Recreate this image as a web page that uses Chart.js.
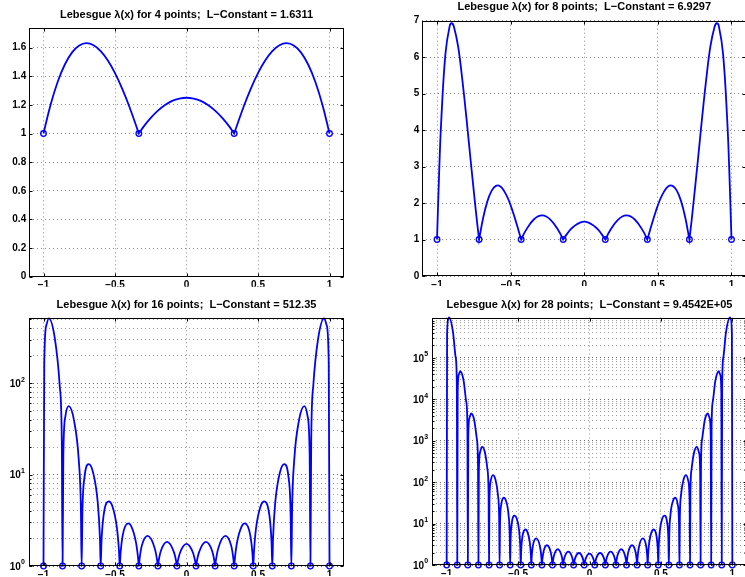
<!DOCTYPE html>
<html>
<head>
<meta charset="utf-8">
<script src="https://cdn.jsdelivr.net/npm/chart.js@4.4.1/dist/chart.umd.min.js"></script>
<style>
  html, body { margin: 0; padding: 0; background: #fff; overflow: hidden; width: 745px; height: 577px; }
  canvas { position: absolute; left: 0; top: 0; }
</style>
</head>
<body>
<canvas id="c4" width="760" height="600"></canvas>
<canvas id="c8" width="760" height="600"></canvas>
<canvas id="c16" width="760" height="600"></canvas>
<canvas id="c28" width="760" height="600"></canvas>
<script>
// interpolation nodes (equispaced) for each panel
const nodes4 = [-1, -0.3333, 0.3333, 1];
const nodes8 = [-1, -0.7143, -0.4286, -0.1429, 0.1429, 0.4286, 0.7143, 1];
const nodes16 = [-1, -0.8667, -0.7333, -0.6, -0.4667, -0.3333, -0.2, -0.0667,
  0.0667, 0.2, 0.3333, 0.4667, 0.6, 0.7333, 0.8667, 1];
const nodes28 = [-1, -0.9259, -0.8519, -0.7778, -0.7037, -0.6296, -0.5556, -0.4815, -0.4074, -0.3333,
  -0.2593, -0.1852, -0.1111, -0.037, 0.037, 0.1111, 0.1852, 0.2593, 0.3333, 0.4074,
  0.4815, 0.5556, 0.6296, 0.7037, 0.7778, 0.8519, 0.9259, 1];

// lambda(x)
const curve4X = [-1, -0.95, -0.9, -0.85, -0.8, -0.75, -0.7, -0.65, -0.6, -0.55, -0.5, -0.45, -0.4, -0.3333,
  -0.3, -0.25, -0.2, -0.15, -0.1, -0.05, 0, 0.05, 0.1, 0.15, 0.2, 0.25, 0.3, 0.3333,
  0.4, 0.45, 0.5, 0.55, 0.6, 0.65, 0.7, 0.75, 0.8, 0.85, 0.9, 0.95, 1];
const curve4Y = [1, 1.203, 1.363, 1.484, 1.567, 1.615, 1.631, 1.617, 1.576, 1.510, 1.422, 1.314, 1.189, 1,
  1.048, 1.109, 1.16, 1.199, 1.228, 1.244, 1.25, 1.244, 1.228, 1.199, 1.16, 1.109, 1.048, 1,
  1.189, 1.314, 1.422, 1.510, 1.576, 1.617, 1.631, 1.615, 1.567, 1.484, 1.363, 1.203, 1];

const curve8X = [-1, -0.9857, -0.9714, -0.9429, -0.9143, -0.9, -0.8857, -0.8571, -0.8286, -0.8, -0.7714, -0.7429, -0.7286, -0.7143,
  -0.6857, -0.6571, -0.6286, -0.6, -0.5714, -0.5429, -0.5143, -0.4857, -0.4571, -0.4286,
  -0.4, -0.3429, -0.2857, -0.2286, -0.1714, -0.1429,
  -0.1143, -0.0714, 0, 0.0714, 0.1143, 0.1429,
  0.1714, 0.2286, 0.2857, 0.3429, 0.4, 0.4286,
  0.4571, 0.4857, 0.5143, 0.5429, 0.5714, 0.6, 0.6286, 0.6571, 0.6857, 0.7143,
  0.7286, 0.7429, 0.7714, 0.8, 0.8286, 0.8571, 0.8857, 0.9, 0.9143, 0.9429, 0.9714, 0.9857, 1];
const curve8Y = [1, 2.82, 4.25, 6.09, 6.85, 6.93, 6.84, 6.30, 5.40, 4.32, 3.16, 2.04, 1.50, 1,
  1.61, 2.06, 2.34, 2.47, 2.46, 2.32, 2.09, 1.77, 1.40, 1,
  1.23, 1.55, 1.66, 1.54, 1.22, 1,
  1.17, 1.36, 1.49, 1.36, 1.17, 1,
  1.22, 1.54, 1.66, 1.55, 1.23, 1,
  1.40, 1.77, 2.09, 2.32, 2.46, 2.47, 2.34, 2.06, 1.61, 1,
  1.50, 2.04, 3.16, 4.32, 5.40, 6.30, 6.84, 6.93, 6.85, 6.09, 4.25, 2.82, 1];

const curve16X = [-1, -0.99467, -0.98, -0.96267, -0.92, -0.88667, -0.872,
  -0.86667, -0.86133, -0.84667, -0.824, -0.78667, -0.75333, -0.73867,
  -0.73333, -0.728, -0.71333, -0.684, -0.65333, -0.62, -0.60533,
  -0.6, -0.59467, -0.58, -0.544, -0.52, -0.48667, -0.472,
  -0.46667, -0.46133, -0.44667, -0.408, -0.38667, -0.35333, -0.33867,
  -0.33333, -0.328, -0.31333, -0.272, -0.22, -0.20533,
  -0.2, -0.19467, -0.18, -0.136, -0.08667, -0.072,
  -0.06667, -0.06133, -0.04667, 0, 0.04667, 0.06133,
  0.06667,
  0.072, 0.08667, 0.136, 0.18, 0.19467, 0.2,
  0.20533, 0.22, 0.272, 0.31333, 0.328, 0.33333,
  0.33867, 0.35333, 0.38667, 0.408, 0.44667, 0.46133, 0.46667,
  0.472, 0.48667, 0.52, 0.544, 0.58, 0.59467, 0.6,
  0.60533, 0.62, 0.65333, 0.684, 0.71333, 0.728, 0.73333,
  0.73867, 0.75333, 0.78667, 0.824, 0.84667, 0.86133, 0.86667,
  0.872, 0.88667, 0.92, 0.96267, 0.98, 0.99467, 1];
const curve16Y = [1, 165.5, 430.5, 512.35, 303.7, 94.2, 23.1,
  1, 16.4, 43.7, 56, 39.2, 14.4, 4.37,
  1, 3.86, 9.39, 13, 10.56, 4.84, 2.02,
  1, 1.83, 3.56, 5.1, 4.59, 2.62, 1.45,
  1, 1.36, 2.14, 2.92, 2.73, 1.81, 1.23,
  1, 1.20, 1.65, 2.14, 1.52, 1.15,
  1, 1.14, 1.45, 1.84, 1.40, 1.12,
  1, 1.115, 1.38, 1.75, 1.38, 1.115,
  1,
  1.12, 1.40, 1.84, 1.45, 1.14, 1,
  1.15, 1.52, 2.14, 1.65, 1.20, 1,
  1.23, 1.81, 2.73, 2.92, 2.14, 1.36, 1,
  1.45, 2.62, 4.59, 5.1, 3.56, 1.83, 1,
  2.02, 4.84, 10.56, 13, 9.39, 3.86, 1,
  4.37, 14.4, 39.2, 56, 43.7, 16.4, 1,
  23.1, 94.2, 303.7, 512.35, 430.5, 165.5, 1];

const curve28X = [-1, -0.99704, -0.98889, -0.98296, -0.95556, -0.93704, -0.92889,
  -0.92593, -0.92296, -0.91481, -0.90519, -0.88148, -0.86296, -0.85481,
  -0.85185, -0.84889, -0.84074, -0.82815, -0.80741, -0.78889, -0.78074,
  -0.77778, -0.77481, -0.76667, -0.75185, -0.73333, -0.71481, -0.70667,
  -0.7037, -0.70074, -0.69259, -0.6763, -0.65926, -0.64074, -0.63259,
  -0.62963, -0.62667, -0.61852, -0.6, -0.58519, -0.56667, -0.55852,
  -0.55556, -0.55259, -0.54444, -0.52444, -0.51111, -0.49259, -0.48444,
  -0.48148, -0.47852, -0.47037, -0.44889, -0.43704, -0.41852, -0.41037,
  -0.40741, -0.40444, -0.3963, -0.37333, -0.34444, -0.3363,
  -0.33333, -0.33037, -0.32222, -0.29778, -0.27037, -0.26222,
  -0.25926, -0.2563, -0.24815, -0.22222, -0.1963, -0.18815,
  -0.18519, -0.18222, -0.17407, -0.14815, -0.12222, -0.11407,
  -0.11111, -0.10815, -0.1, -0.07407, -0.04815, -0.04,
  -0.03704, -0.03407, -0.02593, 0, 0.02593, 0.03407,
  0.03704,
  0.04, 0.04815, 0.07407, 0.1, 0.10815, 0.11111,
  0.11407, 0.12222, 0.14815, 0.17407, 0.18222, 0.18519,
  0.18815, 0.1963, 0.22222, 0.24815, 0.2563, 0.25926,
  0.26222, 0.27037, 0.29778, 0.32222, 0.33037, 0.33333,
  0.3363, 0.34444, 0.37333, 0.3963, 0.40444, 0.40741,
  0.41037, 0.41852, 0.43704, 0.44889, 0.47037, 0.47852, 0.48148,
  0.48444, 0.49259, 0.51111, 0.52444, 0.54444, 0.55259, 0.55556,
  0.55852, 0.56667, 0.58519, 0.6, 0.61852, 0.62667, 0.62963,
  0.63259, 0.64074, 0.65926, 0.6763, 0.69259, 0.70074, 0.7037,
  0.70667, 0.71481, 0.73333, 0.75185, 0.76667, 0.77481, 0.77778,
  0.78074, 0.78889, 0.80741, 0.82815, 0.84074, 0.84889, 0.85185,
  0.85481, 0.86296, 0.88148, 0.90519, 0.91481, 0.92296, 0.92593,
  0.92889, 0.93704, 0.95556, 0.98296, 0.98889, 0.99704, 1];
const curve28Y = [1, 365900, 868900, 945420, 414800, 102800, 22100,
  1, 15300, 40000, 47600, 28200, 8680, 2060,
  1, 1277, 3531, 4550, 3158, 1110, 279,
  1, 182, 521, 713, 541, 207, 54.8,
  1, 36.0, 103.8, 148, 118.1, 48.1, 13.5,
  1, 9.86, 27.8, 42, 35.7, 16.0, 5.11,
  1, 3.93, 10.06, 15.5, 13.69, 6.72, 2.60,
  1, 2.17, 4.70, 7.2, 6.59, 3.63, 1.75,
  1, 1.60, 2.93, 4.4, 2.54, 1.45,
  1, 1.33, 2.08, 3.0, 1.96, 1.28,
  1, 1.22, 1.71, 2.4, 1.71, 1.22,
  1, 1.17, 1.56, 2.1, 1.56, 1.17,
  1, 1.146, 1.485, 1.95, 1.485, 1.146,
  1, 1.135, 1.449, 1.88, 1.449, 1.135,
  1,
  1.146, 1.485, 1.95, 1.485, 1.146, 1,
  1.17, 1.56, 2.1, 1.56, 1.17, 1,
  1.22, 1.71, 2.4, 1.71, 1.22, 1,
  1.28, 1.96, 3.0, 2.08, 1.33, 1,
  1.45, 2.54, 4.4, 2.93, 1.60, 1,
  1.75, 3.63, 6.59, 7.2, 4.70, 2.17, 1,
  2.60, 6.72, 13.69, 15.5, 10.06, 3.93, 1,
  5.11, 16.0, 35.7, 42, 27.8, 9.86, 1,
  13.5, 48.1, 118.1, 148, 103.8, 36.0, 1,
  54.8, 207, 541, 713, 521, 182, 1,
  279, 1110, 3158, 4550, 3531, 1277, 1,
  2060, 8680, 28200, 47600, 40000, 15300, 1,
  22100, 102800, 414800, 945420, 868900, 365900, 1];

// tick labels
const xTicks = [-1, -0.5, 0, 0.5, 1];
const yTicks4 = [0, 0.2, 0.4, 0.6, 0.8, 1, 1.2, 1.4, 1.6];
const yTicks8 = [0, 1, 2, 3, 4, 5, 6, 7];
const yTicks16 = [1, 10, 100];
const yExp16 = ["0", "1", "2"];
const yTicks28 = [1, 10, 100, 1000, 10000, 100000];
const yExp28 = ["0", "1", "2", "3", "4", "5"];

const blue = "#0000ff";
const family = "'Liberation Sans', Arial, Helvetica, sans-serif";
const tickFont = { family: family, size: 10, weight: "bold" };
const titleFont = { family: family, size: 11, weight: "bold" };

function minus(v) {
  return String(v).replace("-", "\u2212");
}

function isDecade(v) {
  const l = Math.log10(v);
  return Math.abs(l - Math.round(l)) < 1e-9;
}

// for the linear panels an inner node is repeated so the spline keeps its cusp
function curvePoints(xs, ys, cusp) {
  const pts = [];
  for (let i = 0; i < xs.length; i++) {
    pts.push({ x: xs[i], y: ys[i] });
    if (cusp && ys[i] === 1 && i > 0 && i < xs.length - 1) pts.push({ x: xs[i], y: ys[i] });
  }
  return pts;
}

function logGrid(decades, max) {
  const out = [];
  decades.forEach(d => {
    for (let m = 1; m <= 9; m++) {
      if (m * d <= max) out.push(m * d);
    }
  });
  return out;
}

// box with inward ticks, like the matlab axes
const framePlugin = {
  id: "frame",
  afterDraw(chart) {
    const { ctx, chartArea: a, scales } = chart;
    const L = Math.round(a.left) + 0.5, R = Math.round(a.right) - 0.5;
    const T = Math.round(a.top) + 0.5, B = Math.round(a.bottom) - 0.5;
    ctx.save();
    ctx.strokeStyle = "#000";
    ctx.lineWidth = 1;
    ctx.strokeRect(L, T, R - L, B - T);
    ctx.beginPath();
    scales.x.ticks.forEach(t => {
      const p = Math.round(scales.x.getPixelForValue(t.value)) + 0.5;
      ctx.moveTo(p, B); ctx.lineTo(p, B - 3);
      ctx.moveTo(p, T); ctx.lineTo(p, T + 3);
    });
    const logY = scales.y.type === "logarithmic";
    scales.y.ticks.forEach(t => {
      const p = Math.round(scales.y.getPixelForValue(t.value)) + 0.5;
      const len = (!logY || isDecade(t.value)) ? 3 : 2;
      ctx.moveTo(L, p); ctx.lineTo(L + len, p);
      ctx.moveTo(R, p); ctx.lineTo(R - len, p);
    });
    ctx.stroke();
    ctx.restore();
  }
};

// "10" with a raised exponent for the log axes
function powerLabels(values, exps) {
  return {
    id: "powerLabels",
    afterDraw(chart) {
      const { ctx, chartArea: a, scales } = chart;
      ctx.save();
      ctx.fillStyle = "#000";
      ctx.textBaseline = "middle";
      values.forEach((v, i) => {
        const p = scales.y.getPixelForValue(v);
        ctx.font = "bold 7px " + family;
        const ew = ctx.measureText(exps[i]).width;
        const baseRight = a.left - 4.5 - ew;
        ctx.textAlign = "left";
        ctx.fillText(exps[i], baseRight + 0.3, p - 3.5);
        ctx.font = "bold 10px " + family;
        ctx.textAlign = "right";
        ctx.fillText("10", baseRight, p + 1);
      });
      ctx.restore();
    }
  };
}

function panel(id, o) {
  const yScale = o.log ? {
    type: "logarithmic",
    min: 1,
    max: o.yMax,
    afterBuildTicks: s => { s.ticks = logGrid(o.yTicks, o.yMax).map(v => ({ value: v })); },
    ticks: { display: false },
    grid: {
      drawTicks: false, lineWidth: 1,
      color: c => (c.tick && isDecade(c.tick.value)) ? "rgba(0,0,0,0.6)" : "rgba(0,0,0,0.38)"
    }
  } : {
    type: "linear",
    min: 0,
    max: o.yMax,
    afterBuildTicks: s => { s.ticks = o.yTicks.map(v => ({ value: v })); },
    ticks: { font: tickFont, color: "#000", padding: 3, autoSkip: false, callback: v => String(v) },
    grid: { drawTicks: false, lineWidth: 1, color: "rgba(0,0,0,0.45)" }
  };
  yScale.afterFit = s => { s.width = 20; };
  yScale.border = { display: false, dash: [1, 3] };

  const plugins = [framePlugin];
  if (o.log) plugins.push(powerLabels(o.yTicks, o.yExp));

  return new Chart(document.getElementById(id), {
    type: "line",
    data: {
      datasets: [
        {
          data: curvePoints(o.xs, o.ys, !o.log),
          borderColor: blue,
          borderWidth: 1.8,
          pointRadius: 0,
          tension: 0.4,
          cubicInterpolationMode: o.log ? "monotone" : "default",
          fill: false,
          clip: false
        },
        {
          data: o.nodes.map(x => ({ x: x, y: 1 })),
          showLine: false,
          pointStyle: "circle",
          pointRadius: 2.8,
          pointBorderWidth: 1.3,
          pointBorderColor: blue,
          pointBackgroundColor: "rgba(0,0,0,0)",
          clip: false
        }
      ]
    },
    options: {
      responsive: false,
      animation: false,
      events: [],
      layout: { padding: o.pad },
      plugins: {
        legend: { display: false },
        tooltip: { enabled: false },
        title: {
          display: true,
          text: o.title,
          font: titleFont,
          color: "#000",
          fullSize: false,
          padding: { top: 0, bottom: o.titleGap }
        }
      },
      scales: {
        x: {
          type: "linear",
          min: -1.1,
          max: 1.1,
          afterBuildTicks: s => { s.ticks = xTicks.map(v => ({ value: v })); },
          afterFit: s => { s.height = 10; },
          ticks: { font: tickFont, color: "#000", padding: 3, maxRotation: 0, autoSkip: false, callback: v => minus(v) },
          grid: { drawTicks: false, lineWidth: 1, color: "rgba(0,0,0,0.45)" },
          border: { display: false, dash: [1, 3] }
        },
        y: yScale
      }
    },
    plugins: plugins
  });
}

panel("c4", {
  title: "Lebesgue \u03bb(x) for 4 points;  L\u2212Constant = 1.6311",
  xs: curve4X, ys: curve4Y, nodes: nodes4,
  log: false, yMax: 1.735, yTicks: yTicks4,
  pad: { left: 9.2, right: 416.2, top: 8.4, bottom: 313.3 }, titleGap: 6.7
});
panel("c8", {
  title: "Lebesgue \u03bb(x) for 8 points;  L\u2212Constant = 6.9297",
  xs: curve8X, ys: curve8Y, nodes: nodes8,
  log: false, yMax: 7, yTicks: yTicks8,
  pad: { left: 402.3, right: 13.8, top: 0.4, bottom: 314 }, titleGap: 7.1
});
panel("c16", {
  title: "Lebesgue \u03bb(x) for 16 points;  L\u2212Constant = 512.35",
  xs: curve16X, ys: curve16Y, nodes: nodes16,
  log: true, yMax: 512.35, yTicks: yTicks16, yExp: yExp16,
  pad: { left: 9.2, right: 416.2, top: 298.4, bottom: 24 }, titleGap: 6.7
});
panel("c28", {
  title: "Lebesgue \u03bb(x) for 28 points;  L\u2212Constant = 9.4542E+05",
  xs: curve28X, ys: curve28Y, nodes: nodes28,
  log: true, yMax: 945420, yTicks: yTicks28, yExp: yExp28,
  pad: { left: 412.4, right: 13.4, top: 298.4, bottom: 25 }, titleGap: 5.9
});
</script>
</body>
</html>
